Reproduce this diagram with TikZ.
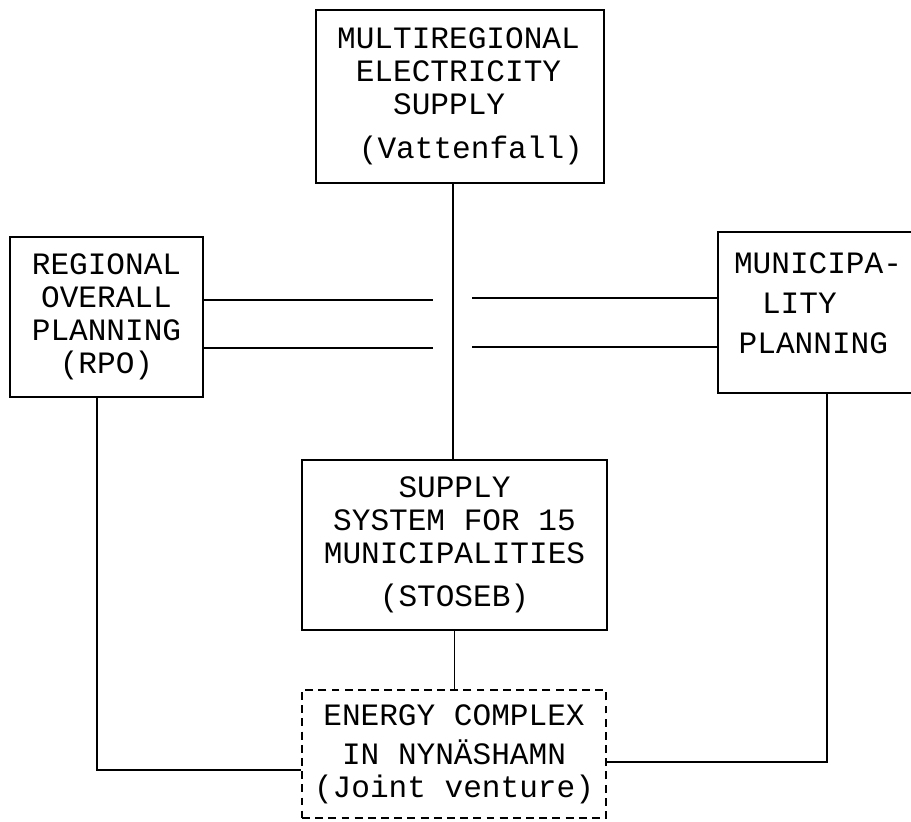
\documentclass[tikz,border=0pt]{standalone}
\usepackage{fontspec}
\setmonofont{Liberation Mono}
\usetikzlibrary{positioning}

\begin{document}
\begin{tikzpicture}[scale=0.2, line width=1.1pt]
        \tikzstyle{box}=[draw, inner sep=0pt, font=\ttfamily\fontsize{17.7}{18.8}\selectfont]
        \tikzstyle{jvbox}=[box, line width=1.4pt, dash pattern=on 4.5pt off 3pt]
        \useasboundingbox (0,0) rectangle (91.1,-82.1);
        % boxes
        \node [box, minimum width=5.76cm, minimum height=3.46cm, align=left] (multi) at (46.0,-9.65)
            {MULTIREGIONAL\\\hspace*{0.6em}ELECTRICITY\\\hspace*{1.8em}SUPPLY\\[0.22cm]\hspace*{0.7em}(Vattenfall)};
        \node [box, minimum width=3.86cm, minimum height=3.2cm, align=center] (rpo) at (10.65,-31.7)
            {REGIONAL\\OVERALL\\PLANNING\\(RPO)};
        \node [box, minimum width=4cm, minimum height=3.22cm, align=left] (muni) at (81.8,-31.25)
            {MUNICIPA-\\[0.14cm]\hspace*{0.9em}LITY\\[0.14cm]\hspace*{0.15em}PLANNING\\[-0.3cm]\mbox{}};
        \node [box, minimum width=6.1cm, minimum height=3.4cm, align=center] (stoseb) at (45.45,-54.5)
            {SUPPLY\\SYSTEM FOR 15\\MUNICIPALITIES\\[0.2cm](STOSEB)};
        \node [jvbox, minimum width=6.08cm, minimum height=2.56cm, align=center] (energy) at (45.4,-75.4)
            {ENERGY COMPLEX\\[0.12cm]IN NYNÄSHAMN\\(Joint venture)};
        % connectors
        \coordinate (mx) at (45.3,0);
        \draw (mx |- multi.south) -- (mx |- stoseb.north);
        \draw (stoseb.south) -- (stoseb.south |- energy.north);
        \coordinate (gl1) at (43.3,-30.0);
        \coordinate (gl2) at (43.3,-34.8);
        \draw (rpo.east |- gl1) -- (gl1);
        \draw (rpo.east |- gl2) -- (gl2);
        \coordinate (gr1) at (47.2,-29.8);
        \coordinate (gr2) at (47.2,-34.7);
        \draw (gr1) -- (muni.west |- gr1);
        \draw (gr2) -- (muni.west |- gr2);
        \coordinate (rl) at (9.7,-77.0);
        \draw (rl |- rpo.south) -- (rl) -- (energy.west |- rl);
        \coordinate (rr) at (82.7,-76.2);
        \draw (rr |- muni.south) -- (rr) -- (energy.east |- rr);
    \end{tikzpicture}
\end{document}
